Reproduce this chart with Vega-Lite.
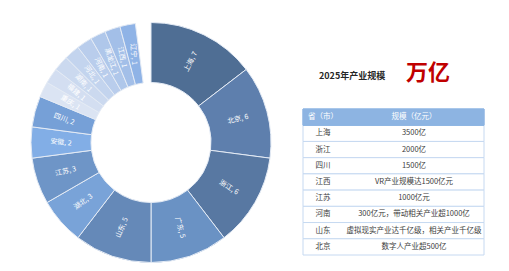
{
  "$schema": "https://vega.github.io/schema/vega-lite/v6.json",
  "padding": 0,
  "spacing": 0,
  "background": "white",
  "config": {"view": {"stroke": null}, "font": "Noto Sans CJK SC"},
  "hconcat": [
    {
      "width": 302,
      "height": 271,
      "data": {"values": [
        {"province": "上海", "value": 7},
        {"province": "北京", "value": 6},
        {"province": "浙江", "value": 6},
        {"province": "广东", "value": 5},
        {"province": "山东", "value": 5},
        {"province": "湖北", "value": 3},
        {"province": "江苏", "value": 3},
        {"province": "安徽", "value": 2},
        {"province": "四川", "value": 2},
        {"province": "重庆", "value": 1},
        {"province": "福建", "value": 1},
        {"province": "湖南", "value": 1},
        {"province": "河北", "value": 1},
        {"province": "河南", "value": 1},
        {"province": "黑龙江", "value": 1},
        {"province": "江西", "value": 1},
        {"province": "辽宁", "value": 1}
      ]},
      "transform": [
        {"joinaggregate": [{"op": "sum", "field": "value", "as": "total"}]},
        {"stack": "value", "groupby": [], "sort": [{"field": "value", "order": "descending"}], "as": ["t0", "t1"]},
        {"calculate": "(datum.t0 + datum.t1) / 2", "as": "mid"},
        {"calculate": "datum.mid / datum.total * 360 - 90", "as": "a0"},
        {"calculate": "datum.a0 > 90 ? datum.a0 - 180 : datum.a0", "as": "labelAngle"},
        {"calculate": "datum.province + ', ' + datum.value", "as": "label"}
      ],
      "layer": [
        {
          "mark": {"type": "arc", "outerRadius": 120, "innerRadius": 60, "stroke": "#e4ebf5", "strokeWidth": 1, "yOffset": 7},
          "encoding": {
            "theta": {"field": "t0", "type": "quantitative", "scale": {"domain": [0, 48]}},
            "theta2": {"field": "t1"},
            "color": {
              "field": "province", "type": "nominal", "legend": null,
              "scale": {
                "domain": ["上海", "北京", "浙江", "广东", "山东", "湖北", "江苏", "安徽", "四川", "重庆", "福建", "湖南", "河北", "河南", "黑龙江", "江西", "辽宁"],
                "range": ["#4f6e94", "#5e7fad", "#5878a2", "#6a92c4", "#6589b8", "#79a3d8", "#6e95c7", "#82aee6", "#76a0d7", "#dbe4f3", "#d3def1", "#cbd9ef", "#c3d4ee", "#b9cdec", "#afc7ea", "#a3bfe8", "#8fb3e6"]
              }
            }
          }
        },
        {
          "mark": {"type": "text", "radius": 90, "fontSize": 7, "fill": "#ffffff", "baseline": "middle", "align": "center", "yOffset": 7},
          "encoding": {
            "theta": {"field": "mid", "type": "quantitative"},
            "text": {"field": "label"},
            "angle": {"field": "labelAngle", "type": "quantitative", "scale": null}
          }
        }
      ]
    },
    {
      "width": 181,
      "height": 271,
      "layer": [
        {
          "data": {"values": [
            {"省（市）": "上海", "规模（亿元）": "3500亿"},
            {"省（市）": "浙江", "规模（亿元）": "2000亿"},
            {"省（市）": "四川", "规模（亿元）": "1500亿"},
            {"省（市）": "江西", "规模（亿元）": "VR产业规模达1500亿元"},
            {"省（市）": "江苏", "规模（亿元）": "1000亿元"},
            {"省（市）": "河南", "规模（亿元）": "300亿元，带动相关产业超1000亿"},
            {"省（市）": "山东", "规模（亿元）": "虚拟现实产业达千亿级，相关产业千亿级"},
            {"省（市）": "北京", "规模（亿元）": "数字人产业超500亿"}
          ]},
          "layer": [
            {
              "mark": {"type": "rect", "fill": "#ffffff", "stroke": "#c6d9f1", "strokeWidth": 1},
              "encoding": {
                "y": {"field": "省（市）", "type": "nominal", "axis": null,
                  "scale": {"type": "band", "domain": ["省（市）", "上海", "浙江", "四川", "江西", "江苏", "河南", "山东", "北京"], "range": [109, 255], "paddingInner": 0, "paddingOuter": 0}}
              }
            },
            {
              "transform": [{"fold": ["省（市）", "规模（亿元）"], "as": ["col", "cell"]}],
              "mark": {"type": "text", "fontSize": 7.5, "fill": "#3c3c3c", "baseline": "middle", "align": "center"},
              "encoding": {
                "y": {"field": "省（市）", "type": "nominal", "axis": null},
                "x": {"field": "col", "type": "nominal", "axis": null,
                  "scale": {"type": "point", "domain": ["省（市）", "规模（亿元）"], "range": [20, 111], "padding": 0}},
                "text": {"field": "cell"}
              }
            }
          ]
        },
        {
          "data": {"values": [{"col": "省（市）"}, {"col": "规模（亿元）"}]},
          "layer": [
            {
              "mark": {"type": "rect", "fill": "#8db4e2", "stroke": "#8db4e2", "strokeWidth": 1},
              "encoding": {
                "y": {"datum": "省（市）", "type": "nominal", "axis": null}
              }
            },
            {
              "mark": {"type": "text", "fontSize": 7.5, "fill": "#ffffff", "baseline": "middle", "align": "center"},
              "encoding": {
                "y": {"datum": "省（市）", "type": "nominal", "axis": null},
                "x": {"field": "col", "type": "nominal", "axis": null},
                "text": {"field": "col"}
              }
            }
          ]
        },
        {
          "data": {"values": [{"title": "2025年产业规模", "unit": "万亿"}]},
          "layer": [
            {
              "mark": {"type": "text", "fontSize": 9, "fontWeight": "bold", "fill": "#262626", "align": "left", "baseline": "middle", "dx": -4, "dy": -41},
              "encoding": {
                "y": {"datum": "省（市）", "type": "nominal", "axis": null},
                "x": {"datum": "省（市）", "type": "nominal", "axis": null},
                "text": {"field": "title"}
              }
            },
            {
              "mark": {"type": "text", "fontSize": 22, "fontWeight": "bold", "fill": "#c00000", "align": "center", "baseline": "middle", "dx": 14, "dy": -44},
              "encoding": {
                "y": {"datum": "省（市）", "type": "nominal", "axis": null},
                "x": {"datum": "规模（亿元）", "type": "nominal", "axis": null},
                "text": {"field": "unit"}
              }
            }
          ]
        }
      ]
    }
  ]
}
